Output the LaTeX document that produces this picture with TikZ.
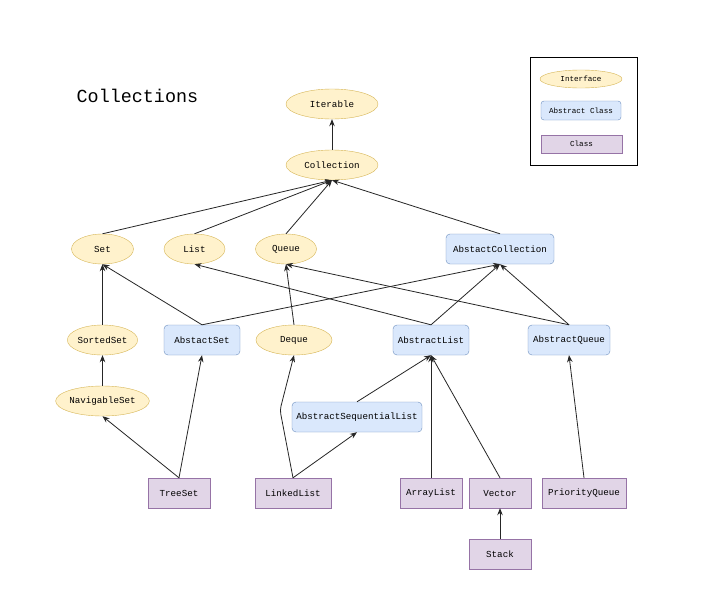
\documentclass[tikz,border=0pt]{standalone}
\usepackage{fontspec}
\setmonofont{Liberation Mono}
\usetikzlibrary{shapes.geometric,arrows.meta}
\definecolor{ifill}{HTML}{FFF2CC}
\definecolor{iline}{HTML}{D6B656}
\definecolor{afill}{HTML}{DAE8FC}
\definecolor{aline}{HTML}{6C8EBF}
\definecolor{cfill}{HTML}{E1D5E7}
\definecolor{cline}{HTML}{9673A6}
\tikzset{
  nfont/.style={font=\ttfamily\fontsize{9.2}{11}\selectfont},
  iface/.style={ellipse,draw=iline,fill=ifill,inner sep=0pt,minimum height=30pt,nfont},
  aclass/.style={rectangle,rounded corners=4pt,draw=aline,fill=afill,inner sep=0pt,minimum height=30pt,nfont},
  cclass/.style={rectangle,draw=cline,fill=cfill,inner sep=0pt,minimum height=30pt,nfont},
  lfont/.style={font=\ttfamily\fontsize{7.6}{9}\selectfont},
  conn/.style={draw=black!85,line width=0.8pt,-{Stealth[length=7pt,width=5.5pt]}}
}
\begin{document}
\begin{tikzpicture}[x=1pt,y=-1pt]
\useasboundingbox[fill=white] (0,0) rectangle (716,592);
% legend
\node[draw=black,line width=0.8pt,minimum width=107pt,minimum height=108pt,inner sep=0pt] (legend) at (583.5,111) {};
\node[iface,minimum width=82pt,minimum height=18pt,lfont] (lgI) at (581,79) {Interface};
\node[aclass,minimum width=80pt,minimum height=19pt,rounded corners=3pt,lfont] (lgA) at (581,110.5) {Abstract Class};
\node[cclass,minimum width=81pt,minimum height=18pt,lfont] (lgC) at (581.5,144) {Class};
% title
\node[anchor=west,inner sep=0pt,font=\ttfamily\fontsize{18.4}{20}\selectfont] (title) at (76.5,96) {Collections};
% interfaces
\node[iface,minimum width=92pt] (iterable) at (332,104) {Iterable};
\node[iface,minimum width=92pt] (collection) at (332,165) {Collection};
\node[iface,minimum width=62pt] (set) at (102.5,249) {Set};
\node[iface,minimum width=61pt] (list) at (194.5,249) {List};
\node[iface,minimum width=61pt] (queue) at (286,249) {Queue};
\node[iface,minimum width=62pt] (sortedset) at (102.5,340) {SortedSet};
\node[iface,minimum width=76pt] (deque) at (294,340) {Deque};
\node[iface,minimum width=92pt] (navset) at (102.5,401) {NavigableSet};
% abstract classes
\node[aclass,minimum width=108pt] (abscoll) at (500,249) {AbstactCollection};
\node[aclass,minimum width=76pt] (absset) at (202,340) {AbstactSet};
\node[aclass,minimum width=76pt] (abslist) at (431,340) {AbstractList};
\node[aclass,minimum width=82pt] (absqueue) at (569,340) {AbstractQueue};
\node[aclass,minimum width=130pt] (absseq) at (357,417) {AbstractSequentialList};
% classes
\node[cclass,minimum width=62pt] (treeset) at (179,493) {TreeSet};
\node[cclass,minimum width=76pt] (linkedlist) at (293,493) {LinkedList};
\node[cclass,minimum width=62pt] (arraylist) at (431,493) {ArrayList};
\node[cclass,minimum width=62pt] (vector) at (500,493) {Vector};
\node[cclass,minimum width=84pt] (pqueue) at (584,493) {PriorityQueue};
\node[cclass,minimum width=62pt] (stack) at (500,554) {Stack};
\coordinate (bend) at (280,410);
% connectors
\draw[conn] (collection.north) -- (iterable.south);
\draw[conn] (set.north) -- (collection.south);
\draw[conn] (list.north) -- (collection.south);
\draw[conn] (queue.north) -- (collection.south);
\draw[conn] (abscoll.north) -- (collection.south);
\draw[conn] (sortedset.north) -- (set.south);
\draw[conn] (absset.north) -- (set.south);
\draw[conn] (absset.north) -- (abscoll.south);
\draw[conn] (abslist.north) -- (list.south);
\draw[conn] (abslist.north) -- (abscoll.south);
\draw[conn] (absqueue.north) -- (queue.south);
\draw[conn] (absqueue.north) -- (abscoll.south);
\draw[conn] (deque.north) -- (queue.south);
\draw[conn] (navset.north) -- (sortedset.south);
\draw[conn] (treeset.north) -- (navset.south);
\draw[conn] (treeset.north) -- (absset.south);
\draw[conn,rounded corners=4pt] (linkedlist.north) -- (bend) -- (deque.south);
\draw[conn] (linkedlist.north) -- (absseq.south);
\draw[conn] (absseq.north) -- (abslist.south);
\draw[conn] (arraylist.north) -- (abslist.south);
\draw[conn] (vector.north) -- (abslist.south);
\draw[conn] (pqueue.north) -- (absqueue.south);
\draw[conn] (stack.north) -- (vector.south);
\end{tikzpicture}
\end{document}
